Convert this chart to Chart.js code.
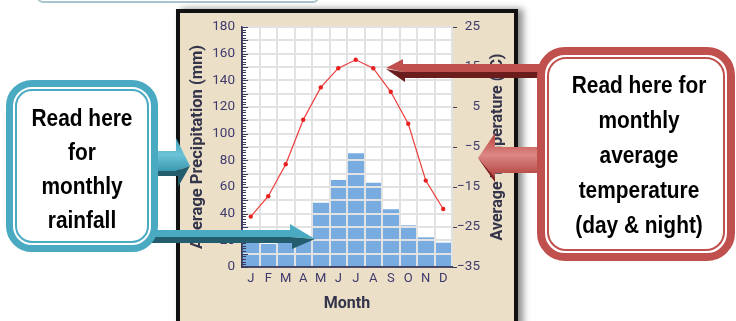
<!DOCTYPE html>
<html>
<head>
<meta charset="utf-8">
<script src="https://cdn.jsdelivr.net/npm/chart.js@4.4.1/dist/chart.umd.min.js"></script>
<style>
  html, body { margin:0; padding:0; background:#ffffff; }
  body { width:736px; height:321px; position:relative; overflow:hidden; font-family:'Liberation Sans', Arial, sans-serif; }
  #topstrip { position:absolute; left:37px; top:-22px; width:278px; height:21px; border:2px solid #a9c3cf; border-radius:6px; background:#fff; }
  #frame { position:absolute; left:176px; top:9px; width:334px; height:340px; border:4px solid #111; background:#ecdfc8; box-shadow:5px 0 7px rgba(0,0,0,0.45); }
  #cv { position:absolute; left:0; top:0; }
  #arrows { position:absolute; left:0; top:0; }
  .box { position:absolute; background:#fff; box-sizing:border-box; }
  .inner { position:absolute; left:2px; top:2px; right:2px; bottom:2px; border-radius:17px; box-sizing:border-box; }
  .txt { position:absolute; text-align:center; font-weight:bold; font-size:24px; color:#000; transform:scaleX(0.87); transform-origin:center; white-space:nowrap; }
  #lbox { left:6px; top:80px; width:152px; height:172px; border:7px solid #4aaac2; border-radius:26px; }
  #lbox .inner { border:2px solid #4aaac2; }
  #rbox { left:537px; top:47px; width:198px; height:214px; border:8px solid #c0504d; border-radius:28px; }
  #rbox .inner { border:2px solid #c0504d; border-radius:19px; }
</style>
</head>
<body>
<div id="topstrip"></div>
<div id="frame"></div>
<canvas id="cv" width="736" height="321"></canvas>
<svg id="arrows" width="736" height="321" viewBox="0 0 736 321">
  <defs>
    <linearGradient id="redg" x1="0" y1="0" x2="0" y2="1">
      <stop offset="0" stop-color="#b8403d"/>
      <stop offset="0.45" stop-color="#dc8884"/>
      <stop offset="1" stop-color="#a8322f"/>
    </linearGradient>
    <linearGradient id="cyg" x1="0" y1="0" x2="0" y2="1">
      <stop offset="0" stop-color="#3e9fb8"/>
      <stop offset="0.5" stop-color="#6cc3d8"/>
      <stop offset="1" stop-color="#3a98b0"/>
    </linearGradient>
  </defs>
  <polygon points="150,151 176,151 176,138 190,166 176,171 150,171" fill="url(#cyg)"/>
  <polygon points="150,171 176,171 190,166 178,187 178,176 150,176" fill="#245e6e"/>
  <polygon points="150,230 290,230 290,224 315,239 290,237 150,237" fill="#4aaac2"/>
  <polygon points="150,237 290,237 315,239 292,249 292,243 150,243" fill="#245e6e"/>
  <polygon points="545,64 403,64 403,59 386,68 403,72 545,72" fill="#c0504d"/>
  <polygon points="386,69 405,82 405,78 545,78 545,72 403,72" fill="#6b1c1c"/>
  <polygon points="545,147 495,147 495,133 478,158 495,182 495,173 545,173" fill="url(#redg)"/>
  <polygon points="478,158 495,182 495,178" fill="#7a2222"/>
</svg>
<div class="box" id="lbox"><div class="inner"></div></div>
<div class="box" id="rbox"><div class="inner"></div></div>
<div class="txt" style="left:6px; top:101px; width:152px; line-height:34px;">Read here<br>for<br>monthly<br>rainfall</div>
<div class="txt" style="left:539px; top:67px; width:200px; line-height:35px;">Read here for<br>monthly<br>average<br>temperature<br>(day &amp; night)</div>

<script>
// ---- data ----
const months = ['J','F','M','A','M','J','J','A','S','O','N','D'];
const precipitation = [19, 17, 18, 20, 48, 65, 85, 63, 43, 31, 22, 18];
const temperature = [-22.4, -17.3, -9.3, 1.8, 9.9, 14.7, 16.8, 14.7, 8.8, 0.8, -13.4, -20.5];
const precipRange = [0, 180];
const precipStep = 10;
const precipLabelEvery = 20;
const tempRange = [-35, 25];
const tempStep = 10;
const minorTickStep = 2;

const TICK_COLOR = '#3d3a6e';
const TITLE_COLOR = '#34344a';
const GRID_COLOR = '#e2e2e2';
const AXIS_COLOR = '#3b3b5c';

function fmtTemp(v){ return v < 0 ? '\u2212' + Math.abs(v) : String(v); }

const overlayPlugin = {
  id: 'overlay',
  beforeDraw(chart) {
    const {ctx, chartArea:a} = chart;
    ctx.save();
    ctx.fillStyle = '#ffffff';
    ctx.fillRect(a.left, a.top, a.right - a.left, a.bottom - a.top);
    ctx.restore();
  },
  afterDatasetDraw(chart, args) {
    if (args.meta.type !== 'bar') return;
    const {ctx, chartArea:a, scales} = chart;
    const y = scales.y, x = scales.x;
    ctx.save();
    ctx.strokeStyle = GRID_COLOR;
    ctx.lineWidth = 2;
    for (let v = precipRange[0] + precipStep; v <= precipRange[1]; v += precipStep) {
      const py = Math.round(y.getPixelForValue(v));
      ctx.beginPath(); ctx.moveTo(a.left + 1, py); ctx.lineTo(a.right, py); ctx.stroke();
    }
    for (let i = 1; i <= months.length; i++) {
      const px = Math.round(x.getPixelForValue(i - 0.5));
      ctx.beginPath(); ctx.moveTo(px, a.top); ctx.lineTo(px, a.bottom - 1); ctx.stroke();
    }
    ctx.strokeStyle = AXIS_COLOR;
    ctx.lineWidth = 1.5;
    ctx.beginPath(); ctx.moveTo(a.left, a.top); ctx.lineTo(a.left, a.bottom); ctx.lineTo(a.right, a.bottom); ctx.stroke();
    ctx.lineWidth = 1;
    for (let v = precipRange[0]; v <= precipRange[1]; v += minorTickStep) {
      const py = Math.round(y.getPixelForValue(v)) + 0.5;
      const len = (v % precipStep === 0) ? 6 : 4;
      ctx.beginPath(); ctx.moveTo(a.left, py); ctx.lineTo(a.left + len, py); ctx.stroke();
    }
    ctx.restore();
  },
  afterDraw(chart) {
    const {ctx, chartArea:a, scales} = chart;
    const s = scales.y2;
    ctx.save();
    ctx.translate(s.left + 46, (a.top + a.bottom) / 2);
    ctx.rotate(-Math.PI / 2);
    ctx.font = 'bold 16px Roboto';
    ctx.fillStyle = TITLE_COLOR;
    ctx.textAlign = 'center';
    ctx.textBaseline = 'middle';
    ctx.fillText('Average Temperature (\u00B0C)', 0, 0);
    ctx.restore();
  }
};

new Chart(document.getElementById('cv'), {
  data: {
    labels: months,
    datasets: [
      {
        type: 'bar', label: 'Precipitation', data: precipitation, yAxisID: 'y', order: 2,
        backgroundColor: '#78ace0', borderWidth: 0, barPercentage: 1, categoryPercentage: 1
      },
      {
        type: 'line', label: 'Temperature', data: temperature, yAxisID: 'y2', order: 1,
        borderColor: '#ef3b3b', borderWidth: 1.2, pointRadius: 2.2, pointBackgroundColor: '#e8201f',
        pointBorderWidth: 0, tension: 0, fill: false
      }
    ]
  },
  options: {
    responsive: false, animation: false, devicePixelRatio: 1,
    layout: { padding: { left: 180, right: 256, top: 27, bottom: 0 } },
    plugins: { legend: { display: false }, tooltip: { enabled: false } },
    scales: {
      x: {
        type: 'category', offset: true,
        grid: { offset: true, color: GRID_COLOR, lineWidth: 2, drawTicks: false },
        border: { color: AXIS_COLOR, width: 1.5 },
        ticks: { color: TICK_COLOR, font: { family: 'Roboto', size: 13 }, padding: 4, autoSkip: false, maxRotation: 0 },
        title: { display: true, text: 'Month', color: TITLE_COLOR, font: { family: 'Roboto', size: 16, weight: 'bold' }, padding: { top: 0, bottom: 7 } },
        afterFit(s) { s.height = 54; }
      },
      y: {
        type: 'linear', position: 'left', min: precipRange[0], max: precipRange[1],
        grid: { color: GRID_COLOR, lineWidth: 2, drawTicks: false },
        border: { color: AXIS_COLOR, width: 1.5 },
        ticks: { stepSize: precipStep, autoSkip: false, color: TICK_COLOR, font: { family: 'Roboto', size: 13.5 }, padding: 7,
          callback: v => (v % precipLabelEvery === 0 ? String(v) : '') },
        title: { display: true, text: 'Average Precipitation (mm)', color: TITLE_COLOR, font: { family: 'Roboto', size: 16.5, weight: 'bold' }, padding: { top: 8, bottom: 0 } },
        afterFit(s) { s.width = 62; }
      },
      y2: {
        type: 'linear', position: 'right', min: tempRange[0], max: tempRange[1],
        grid: { drawOnChartArea: false, color: AXIS_COLOR, lineWidth: 1, tickLength: 5 },
        border: { display: false },
        ticks: { stepSize: tempStep, autoSkip: false, color: TICK_COLOR, font: { family: 'Roboto', size: 13.5 }, padding: 1, crossAlign: 'far',
          callback: v => fmtTemp(v) },
        afterFit(s) { s.width = 28; }
      }
    }
  },
  plugins: [overlayPlugin]
});
</script>
</body>
</html>
